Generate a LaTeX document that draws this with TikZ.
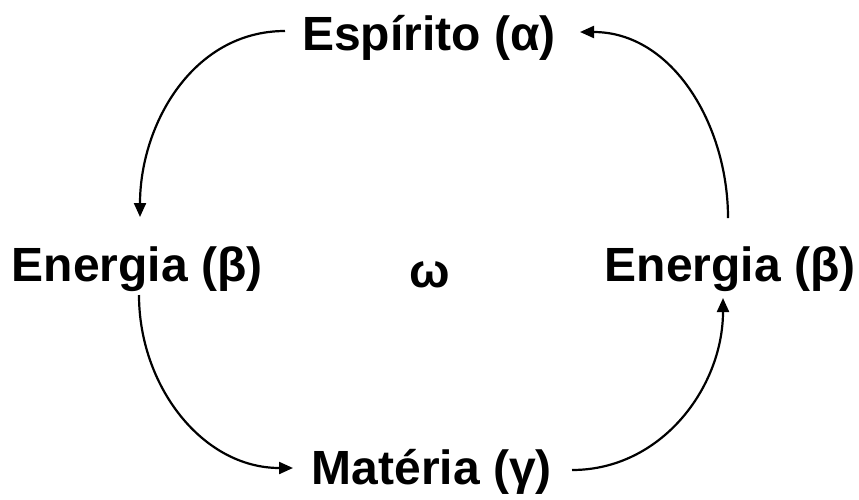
\documentclass[tikz,border=0pt]{standalone}
\usepackage{fontspec}
\setmainfont{Liberation Sans}
\usetikzlibrary{arrows.meta}
\begin{document}
\begin{tikzpicture}[x=1pt,y=-1pt,
  lbl/.style={font=\fontsize{48}{57}\selectfont\bfseries, inner sep=0pt, anchor=base},
  conn/.style={line width=2.2pt, -{Triangle[length=14pt,width=12pt]}}]
\useasboundingbox (0,0) rectangle (859,499);
\node[lbl] (espirito) at (429,50) {Espírito (α)};
\node[lbl] (energiaL) at (137,281) {Energia (β)};
\node[lbl] (omega) at (430,287) {ω};
\node[lbl] (energiaR) at (730,281) {Energia (β)};
\node[lbl] (materia) at (432,484) {Matéria (γ)};
\coordinate (a1) at (285,31);
\coordinate (b1) at (140,217);
\coordinate (a2) at (139,295);
\coordinate (b2) at (293,468);
\coordinate (a3) at (572,470);
\coordinate (b3) at (723,298);
\coordinate (a4) at (728,218);
\coordinate (b4) at (580,32);
\draw[conn] (a1) to[out=180,in=90] (b1);
\draw[conn] (a2) to[out=-90,in=180] (b2);
\draw[conn] (a3) to[out=0,in=-90] (b3);
\draw[conn] (a4) to[out=90,in=0] (b4);
\end{tikzpicture}
\end{document}
